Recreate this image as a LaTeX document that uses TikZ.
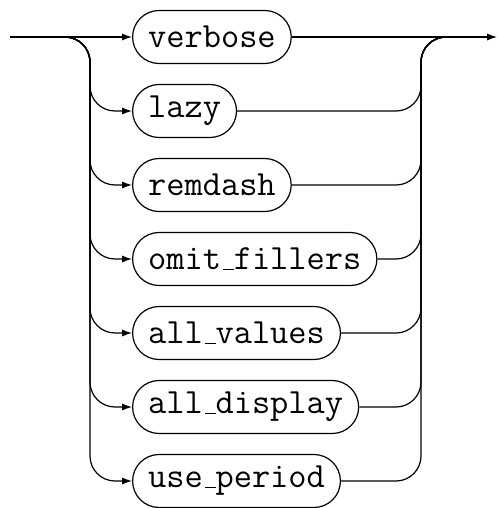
\documentclass[tikz,border=0pt]{standalone}
\usepackage{fontspec}
\usetikzlibrary{arrows.meta}
\newcommand{\optfont}{\fontsize{17.7}{20}\ttfamily}
\newcommand{\us}{\kern.06em\rule{.3em}{0.6pt}}
\tikzset{
  opt/.style={draw, rounded corners=13.25pt, minimum height=26.5pt, inner xsep=7.75pt, anchor=west, font=\optfont},
  arr/.style={-{Latex[length=5pt,width=3.6pt]}}
}
\begin{document}
\begin{tikzpicture}[x=0.5pt, y=-0.5pt, line width=0.6pt]
 \useasboundingbox (0,0) rectangle (498,508);

 %Options
 \foreach \name/\txt [count=\i from 0] in {verbose/verbose, lazy/lazy, remdash/remdash, omitfillers/omit\us fillers, allvalues/all\us values, alldisplay/all\us display, useperiod/use\us period}
  \node[opt] (\name) at (132, 37+74*\i) {\txt};

 %Main line
 \coordinate (in) at (10,37);
 \coordinate (out) at (497,37);
 \draw[arr] (in) -- (verbose.west);
 \draw[arr] (verbose.east) -- (out);

 %Branches
 \foreach \name in {lazy, remdash, omitfillers, allvalues, alldisplay, useperiod} {
  \draw[arr, rounded corners=12.5pt] (65,37) -- (90,37) |- (\name.west);
  \draw[rounded corners=12.5pt] (\name.east) -| (421,37) -- (446,37);
 }

\end{tikzpicture}
\end{document}
